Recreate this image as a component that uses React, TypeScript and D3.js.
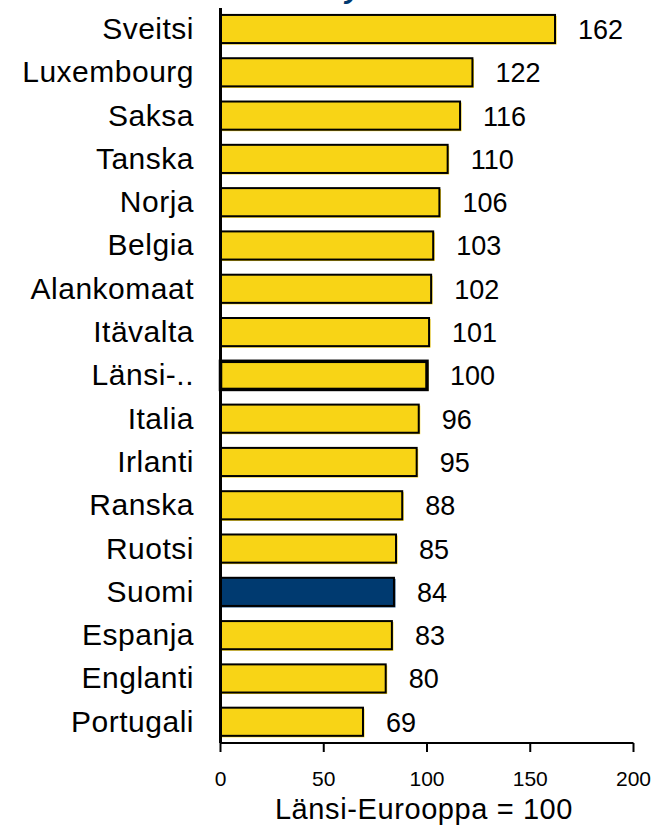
import React from "react";
import * as d3 from "d3";

const categories = ["Sveitsi","Luxembourg","Saksa","Tanska","Norja","Belgia","Alankomaat","Itävalta","Länsi-..","Italia","Irlanti","Ranska","Ruotsi","Suomi","Espanja","Englanti","Portugali"];
const values = [162,122,116,110,106,103,102,101,100,96,95,88,85,84,83,80,69];
const ticks = [0,50,100,150,200];
const axisTitle = "Länsi-Eurooppa = 100";
const highlight = "Suomi";
const reference = "Länsi-..";

const W = 656, H = 826;
const YELLOW = "#F8D416";
const BLUE = "#003A70";

export default function App() {
  const x = d3.scaleLinear().domain([0, 200]).range([220.5, 633.5]);
  const y = d3.scaleBand<string>().domain(categories).range([7.35, 743.4]).paddingInner(0.35).paddingOuter(0.175);
  const font = "'Liberation Sans', Arial, sans-serif";
  const axisY = 743;
  return (
    <svg width={W} height={H} style={{ position: "absolute", left: 0, top: 0, display: "block", background: "#fff" }} fontFamily={font}>
      <text x={345} y={-2} fontSize={30} fontWeight="bold" fontStyle="italic" fill={BLUE}>y</text>
      {categories.map((c, i) => {
        const y0 = y(c)!;
        const bw = y.bandwidth();
        const fill = c === highlight ? BLUE : YELLOW;
        const sw = c === reference ? 3.5 : 2;
        const xe = x(values[i]);
        const cy = y0 + bw / 2;
        return (
          <g key={c}>
            <rect x={x(0)} y={y0 + 1} width={xe - x(0) + 1.5} height={bw + 0.5} fill={fill} />
            <rect x={x(0)} y={y0} width={xe - x(0)} height={bw} fill={fill} stroke="#000" strokeWidth={sw} />
            <text x={194} y={cy + 10} fontSize={30} letterSpacing={0.5} textAnchor="end" fill="#000">{c}</text>
            <text x={xe + 23} y={cy + 10} fontSize={27} textAnchor="start" fill="#000">{values[i]}</text>
          </g>
        );
      })}
      <line x1={x(0)} x2={x(0)} y1={8} y2={axisY} stroke="#000" strokeWidth={3} />
      <line x1={x(0)} x2={x(200)} y1={axisY} y2={axisY} stroke="#000" strokeWidth={2} />
      {ticks.map(t => (
        <g key={t}>
          <line x1={x(t)} x2={x(t)} y1={axisY} y2={axisY + 9} stroke="#000" strokeWidth={2} />
          <text x={x(t)} y={786} fontSize={21} textAnchor="middle" fill="#000">{t}</text>
        </g>
      ))}
      <text x={424} y={819} fontSize={29} letterSpacing={0.6} textAnchor="middle" fill="#000">{axisTitle}</text>
    </svg>
  );
}
